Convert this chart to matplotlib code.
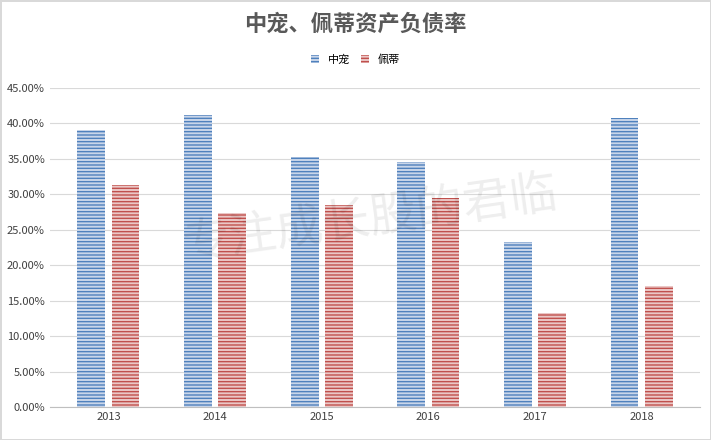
import matplotlib
matplotlib.use("Agg")
import matplotlib.pyplot as plt
import numpy as np

plt.rcParams["font.family"] = ["Noto Sans CJK SC", "DejaVu Sans"]
plt.rcParams["hatch.linewidth"] = 1.0

years = ["2013", "2014", "2015", "2016", "2017", "2018"]
zhongchong = [39.1, 41.2, 35.3, 34.5, 23.3, 40.8]
peidi = [31.3, 27.4, 28.5, 29.5, 13.3, 17.1]

BLUE = "#4f81bd"
RED = "#c0504d"

fig = plt.figure(figsize=(7.11, 4.40), dpi=100)
ax = fig.add_axes([0.07, 0.075, 0.915, 0.725])

x = np.arange(len(years))
w = 0.26
ax.bar(x - w / 2 - 0.03, zhongchong, w, facecolor="#c9d6ea", edgecolor=BLUE,
       hatch="-----", linewidth=0, label="中宠")
ax.bar(x + w / 2 + 0.03, peidi, w, facecolor="#ebc7c6", edgecolor=RED,
       hatch="-----", linewidth=0, label="佩蒂")

ax.set_ylim(0, 45)
ax.set_yticks(np.arange(0, 46, 5))
ax.set_yticklabels([f"{v:.2f}%" for v in np.arange(0, 46, 5)], fontsize=8, color="#404040")
ax.set_xlim(-0.55, len(years) - 0.45)
ax.set_xticks(x)
ax.set_xticklabels(years, fontsize=8, color="#404040")
ax.yaxis.grid(True, color="#d9d9d9", linewidth=0.8)
ax.set_axisbelow(True)
for s in ["top", "right", "left"]:
    ax.spines[s].set_visible(False)
ax.spines["bottom"].set_color("#bfbfbf")
ax.tick_params(length=0)

fig.text(0.5, 0.945, "中宠、佩蒂资产负债率", ha="center", va="center",
         fontsize=16, fontweight="bold", color="#595959")
fig.legend(loc="center", bbox_to_anchor=(0.5, 0.865), ncol=2, frameon=False,
           fontsize=8, handlelength=0.7, handleheight=0.7, columnspacing=1.0)

fig.text(0.52, 0.50, "专注成长股的君临", ha="center", va="center", fontsize=34,
         color="#000000", alpha=0.07, rotation=8)

fig.patch.set_edgecolor("#d9d9d9")
fig.patch.set_linewidth(1)
fig.savefig("out.png", dpi=100)
